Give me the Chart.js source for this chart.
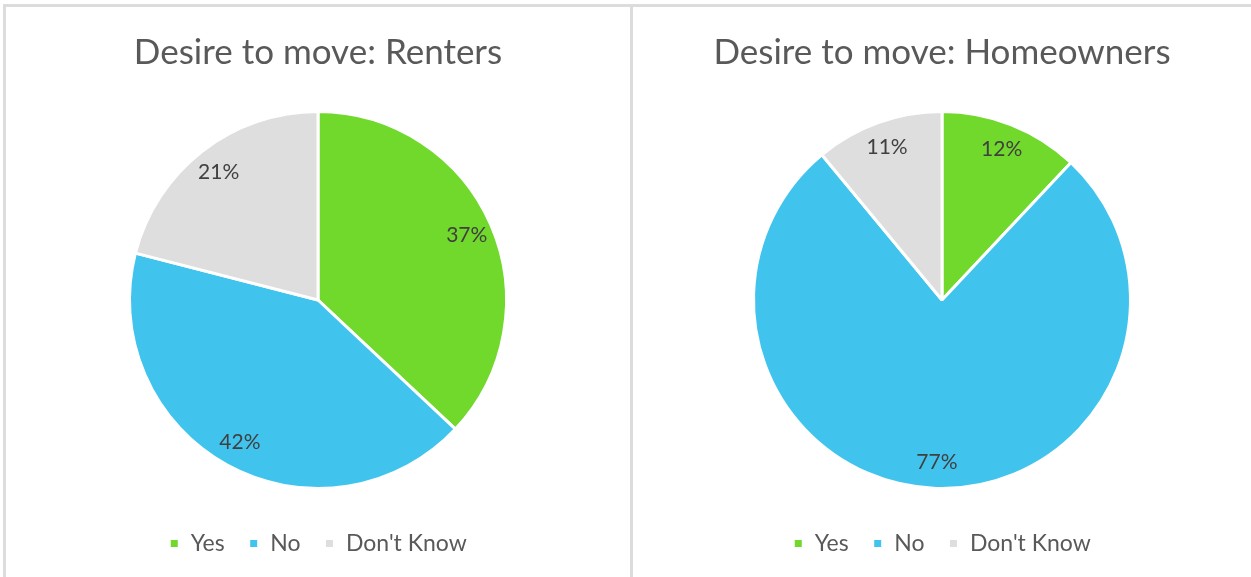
<!DOCTYPE html>
<html>
<head>
<meta charset="utf-8">
<script src="https://cdn.jsdelivr.net/npm/chart.js@4"></script>
<style>
  body { margin: 0; background: #fff; overflow: hidden; }
  .panel { position: absolute; top: 4px; border-top: 3px solid #dcdcdc; height: 600px; }
  #leftPanel { left: 3px; width: 624px; border-left: 3px solid #dcdcdc; border-right: 3px solid #dcdcdc; }
  #rightPanel { left: 633px; width: 640px; }
  .box { position: absolute; top: 3px; height: 555px; }
  #leftPanel .box { left: 0; width: 624px; }
  #rightPanel .box { left: 0; width: 618px; }
</style>
</head>
<body>
<div class="panel" id="leftPanel"><div class="box"><canvas id="rentersChart"></canvas></div></div>
<div class="panel" id="rightPanel"><div class="box"><canvas id="ownersChart"></canvas></div></div>
<script>
// ข้อมูลจากภาพ
const answers = ["Yes", "No", "Don't Know"];
const rentersValues = [37, 42, 21];
const ownersValues = [12, 77, 11];
const sliceColors = ["rgb(113, 216, 44)", "rgb(64, 196, 238)", "rgb(222, 222, 222)"];

const fontFamily = "Lato, 'Open Sans', sans-serif";

// ตัวเลขเปอร์เซ็นต์บนชิ้นพาย
const percentLabels = {
  id: "percentLabels",
  afterDatasetsDraw(chart) {
    const ctx = chart.ctx;
    const meta = chart.getDatasetMeta(0);
    const values = chart.data.datasets[0].data;
    ctx.save();
    ctx.font = "21px " + fontFamily;
    ctx.fillStyle = "#404040";
    ctx.textAlign = "center";
    ctx.textBaseline = "middle";
    meta.data.forEach((arc, i) => {
      const p = arc.getProps(["x", "y", "startAngle", "endAngle", "outerRadius"], true);
      const mid = (p.startAngle + p.endAngle) / 2;
      const r = p.outerRadius * 0.86;
      ctx.fillText(values[i] + "%", p.x + Math.cos(mid) * r, p.y + Math.sin(mid) * r);
    });
    ctx.restore();
  },
};

function createPieChart(chartId, title, values) {
  const ctx = document.getElementById(chartId).getContext("2d");
  return new Chart(ctx, {
    type: "pie",
    data: {
      labels: answers,
      datasets: [
        {
          data: values,
          backgroundColor: sliceColors,
          borderColor: "#ffffff",
          borderWidth: 3,
        },
      ],
    },
    options: {
      responsive: true,
      maintainAspectRatio: false,
      animation: false,
      layout: { padding: 0 },
      plugins: {
        title: {
          display: true,
          text: title,
          color: "#595959",
          font: { family: fontFamily, size: 35, weight: "normal" },
          padding: { top: 22, bottom: 36 },
        },
        legend: {
          position: "bottom",
          title: {
            display: true,
            text: "",
            font: { size: 15 },
            padding: 0,
          },
          labels: {
            color: "#595959",
            font: { family: fontFamily, size: 23 },
            boxWidth: 10,
            boxHeight: 10,
            padding: 24,
          },
        },
        tooltip: { enabled: false },
      },
    },
    plugins: [percentLabels],
  });
}

createPieChart("rentersChart", "Desire to move: Renters", rentersValues);
createPieChart("ownersChart", "Desire to move: Homeowners", ownersValues);
</script>
</body>
</html>
